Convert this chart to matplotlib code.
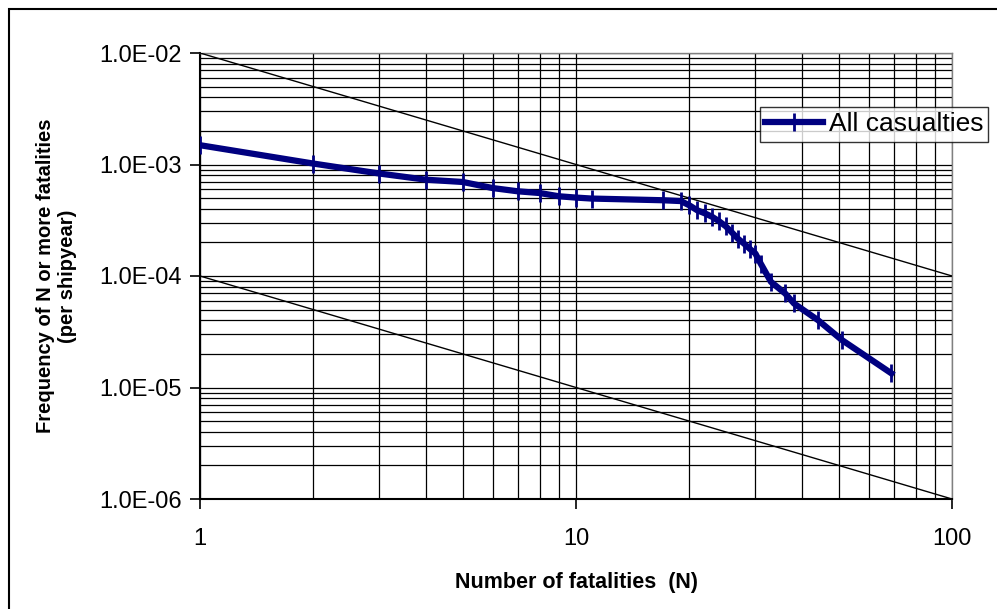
import matplotlib
matplotlib.use("Agg")
import matplotlib.pyplot as plt
from matplotlib.ticker import FixedLocator, FuncFormatter, NullFormatter, LogLocator
from matplotlib.patches import Rectangle

plt.rcParams['font.family'] = ['Liberation Sans', 'DejaVu Sans']

# Blue series: "All casualties" (N, frequency of N or more fatalities)
n_all = [1, 2, 3, 4, 5, 6, 7, 8, 9, 10, 11, 17, 19, 20, 21, 22, 23, 24, 25, 26,
         27, 28, 29, 30, 31, 33, 36, 38, 44, 51, 69]
f_all = [1.49e-3, 1.02e-3, 8.3e-4, 7.3e-4, 6.97e-4, 6.15e-4, 5.75e-4, 5.55e-4,
         5.19e-4, 5.05e-4, 4.95e-4, 4.78e-4, 4.7e-4, 4.31e-4, 3.89e-4, 3.65e-4,
         3.4e-4, 3.1e-4, 2.8e-4, 2.45e-4, 2.15e-4, 1.95e-4, 1.75e-4, 1.59e-4,
         1.29e-4, 8.86e-5, 6.97e-5, 5.67e-5, 4.02e-5, 2.66e-5, 1.34e-5]

# Criterion lines (endpoints)
n_crit = [1, 100]
f_upper = [1e-2, 1e-4]
f_lower = [1e-4, 1e-6]

x_ticks = [1, 10, 100]
y_ticks = [1e-6, 1e-5, 1e-4, 1e-3, 1e-2]

fig = plt.figure(figsize=(9.97, 6.09), dpi=100)
ax = fig.add_axes([200/997, 1-499/609, 752/997, 446/609])

ax.set_xscale('log')
ax.set_yscale('log')
ax.set_xlim(1, 100)
ax.set_ylim(1e-6, 1e-2)

# grid
ax.xaxis.set_major_locator(FixedLocator(x_ticks))
ax.yaxis.set_major_locator(FixedLocator(y_ticks))
ax.xaxis.set_minor_locator(LogLocator(base=10, subs=range(2, 10)))
ax.yaxis.set_minor_locator(LogLocator(base=10, subs=range(2, 10)))
ax.xaxis.set_minor_formatter(NullFormatter())
ax.yaxis.set_minor_formatter(NullFormatter())
ax.grid(True, which='both', color='black', linewidth=0.9)
ax.set_axisbelow(True)

ax.plot(n_crit, f_upper, color='black', linewidth=1.0, zorder=3)
ax.plot(n_crit, f_lower, color='black', linewidth=1.0, zorder=3)

ax.plot(n_all, f_all, color='#000080', linewidth=4.5, marker='|',
        markersize=13, markeredgewidth=2, label='All casualties', zorder=4)

ax.xaxis.set_major_formatter(FuncFormatter(lambda v, p: f"{v:g}"))
ax.yaxis.set_major_formatter(FuncFormatter(lambda v, p: f"{v:.1E}"))
ax.tick_params(which='major', direction='out', length=7, width=1.2,
               labelsize=17, pad=6)
ax.tick_params(which='minor', length=0)
ax.tick_params(axis='x', pad=14)

for s in ['left', 'bottom']:
    ax.spines[s].set_color('black')
    ax.spines[s].set_linewidth(1.5)
for s in ['top', 'right']:
    ax.spines[s].set_color('#808080')
    ax.spines[s].set_linewidth(1.0)

ax.set_xlabel('Number of fatalities  (N)', fontsize=15.5, fontweight='bold',
              labelpad=16)
ax.set_ylabel('Frequency of N or more fatalities\n(per shipyear)', fontsize=14.5,
              fontweight='bold', labelpad=16)

leg = fig.legend(loc='upper left', bbox_to_anchor=(760/997, 1-107/609),
                 bbox_transform=fig.transFigure, fontsize=19, frameon=True,
                 fancybox=False, edgecolor='black', handlelength=2.2,
                 borderpad=0.2, handletextpad=0.2, borderaxespad=0)
leg.get_frame().set_linewidth(1.0)

fig.patches.append(Rectangle((9/997, -0.05), 1.1, 1.05 - 9/609,
                             transform=fig.transFigure, fill=False,
                             edgecolor='black', linewidth=1.5))

fig.savefig('out.png', dpi=100)
